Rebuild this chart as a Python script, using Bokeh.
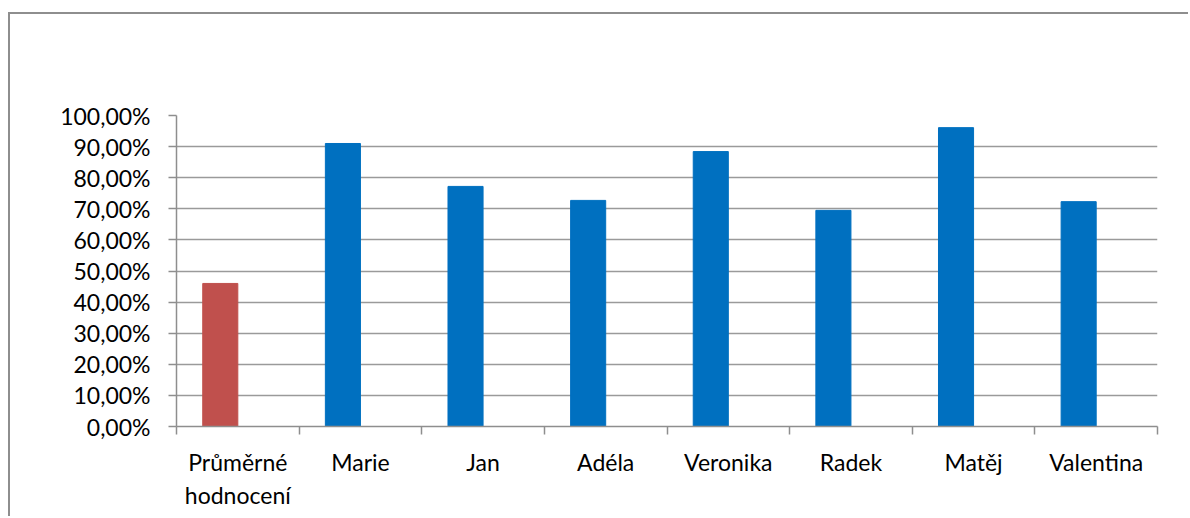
from bokeh.plotting import figure
from bokeh.models import Range1d, FixedTicker, ColumnDataSource
from bokeh.transform import dodge
from bokeh.embed import file_html
from bokeh.resources import INLINE

categories = ["Průměrné\nhodnocení", "Marie", "Jan", "Adéla", "Veronika", "Radek", "Matěj", "Valentina"]
values = [0.46, 0.91, 0.772, 0.727, 0.884, 0.695, 0.961, 0.723]
colors = ["#C0504D", "#0070C0", "#0070C0", "#0070C0", "#0070C0", "#0070C0", "#0070C0", "#0070C0"]
y_ticks = [0.0, 0.1, 0.2, 0.3, 0.4, 0.5, 0.6, 0.7, 0.8, 0.9, 1.0]
y_tick_labels = ["0,00%", "10,00%", "20,00%", "30,00%", "40,00%", "50,00%",
                 "60,00%", "70,00%", "80,00%", "90,00%", "100,00%"]

n = len(categories)
centers = [i + 0.5 for i in range(n)]
bounds = [float(i) for i in range(n + 1)]

BAR_W = 0.286

src = ColumnDataSource(dict(x=centers, top=values, color=colors))

p = figure(width=1180, height=504, output_backend="svg", toolbar_location=None,
           x_range=Range1d(0, n), y_range=Range1d(0, 1),
           min_border_left=166, min_border_right=33, min_border_top=101, min_border_bottom=92,
           styles={"margin-left": "8px", "margin-top": "12px",
                   "border-left": "2px solid #8e8e8e", "border-top": "2px solid #8e8e8e"})
p.outline_line_color = None
p.background_fill_color = "white"
p.border_fill_color = "white"

p.vbar(x=dodge("x", -BAR_W / 2, range=p.x_range), top="top", bottom=0, width=BAR_W,
       color="color", source=src)

FONT = "Lato"
GRAY = "#8e8e8e"

p.xgrid.grid_line_color = None
p.ygrid.grid_line_color = "#9a9a9a"
p.ygrid.grid_line_width = 1.5
p.ygrid.ticker = FixedTicker(ticks=y_ticks)

ya = p.yaxis[0]
ya.ticker = FixedTicker(ticks=y_ticks)
ya.major_label_overrides = {t: l for t, l in zip(y_ticks, y_tick_labels)}
ya.major_tick_out = 8
ya.major_tick_in = 0
ya.minor_tick_line_color = None
ya.axis_line_color = GRAY
ya.axis_line_width = 1.5
ya.major_tick_line_color = GRAY
ya.major_tick_line_width = 1.5
ya.major_label_standoff = 18
ya.major_label_text_font = FONT
ya.major_label_text_font_size = "23px"
ya.major_label_text_color = "#000000"

xa = p.xaxis[0]
xa.ticker = FixedTicker(ticks=centers, minor_ticks=bounds)
xa.major_label_overrides = {c: l for c, l in zip(centers, categories)}
xa.major_tick_line_color = None
xa.minor_tick_out = 8
xa.minor_tick_in = 0
xa.minor_tick_line_color = GRAY
xa.minor_tick_line_width = 1.5
xa.axis_line_color = GRAY
xa.axis_line_width = 1.5
xa.major_label_standoff = 13
xa.major_label_text_font = FONT
xa.major_label_text_font_size = "23px"
xa.major_label_text_color = "#000000"

open("out.html", "w").write(file_html(p, INLINE))
